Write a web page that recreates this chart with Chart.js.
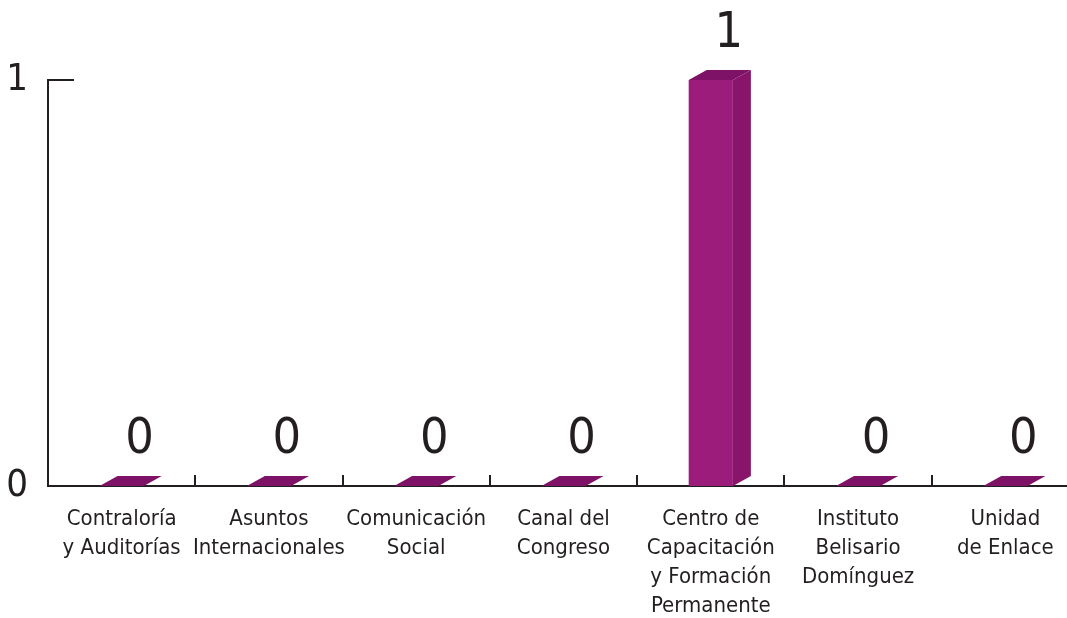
<!DOCTYPE html>
<html>
<head>
<meta charset="utf-8">
<script src="https://cdn.jsdelivr.net/npm/chart.js@4.4.1/dist/chart.umd.min.js"></script>
<style>
  html, body { margin: 0; padding: 0; background: #fff; overflow: hidden; }
  #wrap { width: 1080px; height: 618px; }
</style>
</head>
<body>
<div id="wrap"><canvas id="chart" width="1080" height="618"></canvas></div>
<script>
const categories = [
    ["Contraloría", "y Auditorías"],
    ["Asuntos", "Internacionales"],
    ["Comunicación", "Social"],
    ["Canal del", "Congreso"],
    ["Centro de", "Capacitación", "y Formación", "Permanente"],
    ["Instituto", "Belisario", "Domínguez"],
    ["Unidad", "de Enlace"]
];
const values = [0, 0, 0, 0, 1, 0, 0];
const yTicks = [0, 1];

const FONT = "'Liberation Sans Narrow', 'DejaVu Sans Condensed', sans-serif";
const INK = "#231f20";
const FRONT = "#9c1c7c";
const TOP = "#7d1266";
const SIDE = "#88156a";
const DX = 18, DY = 10;

// draws the 3d top/right faces, value labels and the small tick marks
const bars3d = {
    id: "bars3d",
    afterDatasetsDraw(chart) {
        const ctx = chart.ctx;
        const area = chart.chartArea;
        const x = chart.scales.x, y = chart.scales.y;
        ctx.save();
        ctx.strokeStyle = INK;
        ctx.lineWidth = 2;
        // inward ticks between categories
        for (let i = 1; i < categories.length; i++) {
            const px = Math.round((x.getPixelForValue(i - 1) + x.getPixelForValue(i)) / 2);
            ctx.beginPath();
            ctx.moveTo(px, area.bottom);
            ctx.lineTo(px, area.bottom - 11);
            ctx.stroke();
        }
        // top tick on y axis
        const py = y.getPixelForValue(yTicks[yTicks.length - 1]);
        ctx.beginPath();
        ctx.moveTo(area.left, py);
        ctx.lineTo(area.left + 26, py);
        ctx.stroke();

        chart.getDatasetMeta(0).data.forEach((bar, i) => {
            const l = bar.x - bar.width / 2, r = bar.x + bar.width / 2;
            const t = bar.y, b = bar.base;
            ctx.fillStyle = TOP;
            ctx.beginPath();
            ctx.moveTo(l, t);
            ctx.lineTo(l + DX, t - DY);
            ctx.lineTo(r + DX, t - DY);
            ctx.lineTo(r, t);
            ctx.closePath();
            ctx.fill();
            if (b - t > 1) {
                ctx.fillStyle = SIDE;
                ctx.beginPath();
                ctx.moveTo(r, t);
                ctx.lineTo(r + DX, t - DY);
                ctx.lineTo(r + DX, b - DY);
                ctx.lineTo(r, b);
                ctx.closePath();
                ctx.fill();
            }
            ctx.fillStyle = INK;
            ctx.font = "50px " + FONT;
            ctx.textAlign = "center";
            ctx.textBaseline = "alphabetic";
            ctx.fillText(String(values[i]), bar.x + DX, t - DY - 23);
        });
        ctx.restore();
    }
};

new Chart(document.getElementById("chart"), {
    type: "bar",
    data: {
        labels: categories,
        datasets: [{
            data: values,
            backgroundColor: FRONT,
            borderWidth: 0,
            categoryPercentage: 1,
            barPercentage: 0.3
        }]
    },
    options: {
        responsive: false,
        animation: false,
        layout: { padding: { top: 80, right: 1, left: 0, bottom: 0 } },
        plugins: {
            legend: { display: false },
            tooltip: { enabled: false }
        },
        scales: {
            x: {
                grid: { display: false },
                border: { display: true, color: INK, width: 2 },
                ticks: {
                    color: INK,
                    padding: 11,
                    maxRotation: 0,
                    autoSkip: false,
                    font: { family: FONT, size: 22, lineHeight: 1.32 }
                },
                afterFit(scale) { scale.height = 132; }
            },
            y: {
                min: 0,
                max: 1,
                afterBuildTicks(scale) { scale.ticks = yTicks.map(v => ({ value: v })); },
                grid: { display: false, drawTicks: false },
                border: { display: true, color: INK, width: 2 },
                ticks: {
                    color: INK,
                    padding: 20,
                    font: { family: FONT, size: 38 }
                },
                afterFit(scale) { scale.width = 48; }
            }
        }
    },
    plugins: [bars3d]
});
</script>
</body>
</html>
